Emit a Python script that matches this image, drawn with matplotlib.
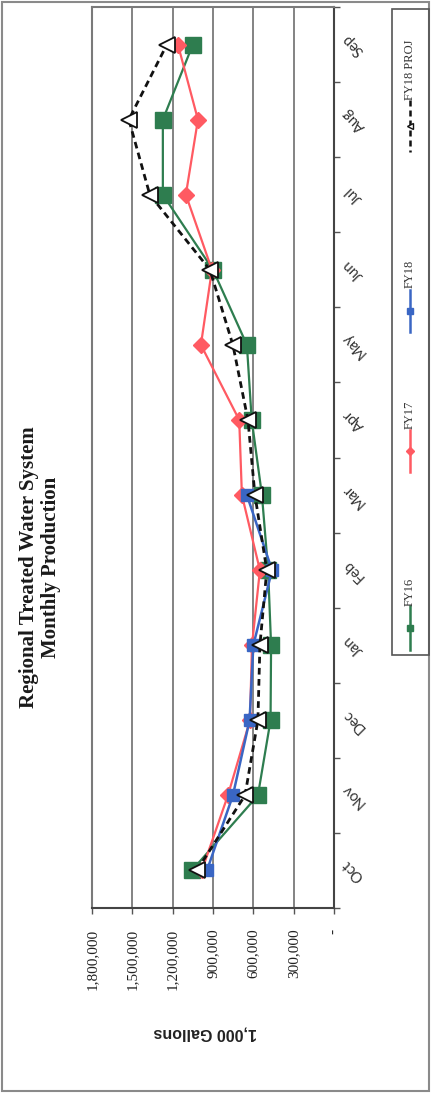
import numpy as np
import matplotlib
matplotlib.use("Agg")
import matplotlib.pyplot as plt
from matplotlib.patches import Rectangle

# Monthly production, thousands of gallons (fiscal year Oct-Sep)
months = ["Oct", "Nov", "Dec", "Jan", "Feb", "Mar", "Apr", "May", "Jun", "Jul", "Aug", "Sep"]
fy16 = [1057000, 566000, 472000, 468000, 490000, 536000, 612000, 648000, 900000, 1273000, 1273000, 1050000]
fy17 = [983000, 789000, 625000, 610000, 551000, 685000, 705000, 990000, 908000, 1102000, 1012000, 1161000]
fy18 = [945000, 752000, 628000, 600000, 461000, 648000]
fy18_proj = [1020000, 662000, 566000, 551000, 500000, 588000, 640000, 752000, 923000, 1370000, 1526000, 1243000]

value_ticks = [0, 300000, 600000, 900000, 1200000, 1500000, 1800000]
value_tick_labels = ["-", "300,000", "600,000", "900,000", "1,200,000", "1,500,000", "1,800,000"]
series_names = ["FY16", "FY17", "FY18", "FY18 PROJ"]

C16, C17, C18, CPROJ = "#2e7d4f", "#ff5a62", "#3a66c4", "#111111"

W, H = 433, 1096
fig = plt.figure(figsize=(W / 100, H / 100), dpi=100)


def px_rect(l, t, r, b):
    return [l / W, 1 - b / H, (r - l) / W, (b - t) / H]


# ---- main plot (page turned on its side: months run upward, values leftward)
ax = fig.add_axes(px_rect(92, 7, 334, 908))
pos = np.arange(len(months))

ax.plot(fy16, pos, color=C16, lw=1.6, marker="s", ms=11, mfc=C16, mec=C16, zorder=3)
ax.plot(fy17, pos, color=C17, lw=1.6, marker="D", ms=8.5, mfc=C17, mec=C17, zorder=4)
ax.plot(fy18, pos[:len(fy18)], color=C18, lw=1.8, marker="s", ms=8.5, mfc=C18, mec=C18, zorder=5)
ax.plot(fy18_proj, pos, color=CPROJ, lw=2.0, ls=(0, (2.4, 1.6)), marker="<", ms=11,
        mfc="white", mec=CPROJ, mew=1.3, zorder=6)

ax.set_xlim(1800000, 0)
ax.set_ylim(-0.5, len(months) - 0.5)

ax.set_xticks(value_ticks)
ax.set_xticklabels(value_tick_labels, rotation=90, fontfamily="Liberation Serif",
                   fontsize=11, color="#222222")
ax.tick_params(axis="x", direction="out", length=4, width=1, pad=11, colors="#555555",
               labelcolor="#222222")
ax.grid(axis="x", color="#7a7a7a", lw=1.3, zorder=0)

ax.yaxis.tick_right()
ax.set_yticks(pos)
ax.set_yticklabels(months, rotation=135, ha="center", va="center", fontfamily="Lato",
                   fontsize=10.5, color="#333333")
ax.set_yticks(np.arange(-0.5, len(months), 1), minor=True)
ax.tick_params(axis="y", which="major", length=0, pad=14)
ax.tick_params(axis="y", which="minor", length=4, width=1, direction="out",
               right=True, left=False, colors="#555555")

for side in ("left", "top"):
    ax.spines[side].set_color("#7a7a7a")
    ax.spines[side].set_linewidth(1.5)
for side in ("right", "bottom"):
    ax.spines[side].set_color("#444444")
    ax.spines[side].set_linewidth(1.5)

ax.set_xlabel("1,000 Gallons", rotation=180, fontfamily="Liberation Sans",
              fontweight="bold", fontsize=11.5, color="#222222", va="center")
ax.xaxis.set_label_coords((205 - 92) / 242, (908 - 1033) / 901)

# ---- page decorations: frame, title, legend (pixel coordinates)
deco = fig.add_axes([0, 0, 1, 1], facecolor="none")
deco.set_xlim(0, W)
deco.set_ylim(H, 0)
deco.axis("off")

deco.add_patch(Rectangle((1.5, 1.5), 427.5, 1089.5, fill=False, ec="#8a8a8a", lw=1.5))

deco.text(40, 567, "Regional Treated Water System\nMonthly Production", rotation=90,
          ha="center", va="center", multialignment="center", fontfamily="Liberation Serif",
          fontweight="bold", fontsize=15, color="#1a1a1a", linespacing=1.15)

deco.add_patch(Rectangle((392, 9), 37, 646, fill=False, ec="#555555", lw=1.2))

legend_entries = [
    (series_names[0], C16, "-", "s", C16, 606, 650, 592),
    (series_names[1], C17, "-", "D", C17, 430, 472, 415),
    (series_names[2], C18, "-", "s", C18, 290, 332, 274),
    (series_names[3], CPROJ, (0, (2.4, 1.6)), "<", "white", 100, 152, 70),
]
for name, col, ls, mk, mfc, top, bot, tcy in legend_entries:
    deco.plot([410, 410], [top, bot], color=col, lw=1.8, ls=ls)
    deco.plot([410], [(top + bot) / 2], marker=mk, ms=4.5, color=col, mfc=mfc, mec=col)
    deco.text(410, tcy, name, rotation=90, ha="center", va="center",
              fontfamily="Liberation Serif", fontsize=9, color="#333333")

fig.savefig("out.png", dpi=100)
